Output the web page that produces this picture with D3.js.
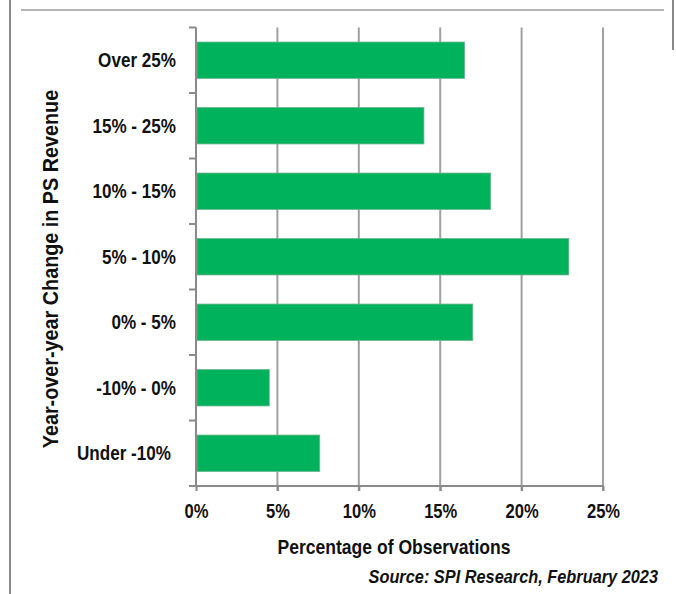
<!DOCTYPE html>
<html>
<head>
<meta charset="utf-8">
<script src="https://cdn.jsdelivr.net/npm/d3@7"></script>
<style>
html,body{margin:0;padding:0;background:#fff;}
svg{display:block;}
</style>
</head>
<body>
<svg id="chart" width="676" height="594"></svg>
<script>
const categories = ["Over 25%", "15% - 25%", "10% - 15%", "5% - 10%", "0% - 5%", "-10% - 0%", "Under -10%"];
const values = [16.5, 14.0, 18.1, 22.9, 17.0, 4.5, 7.6];
const xTicks = [0, 5, 10, 15, 20, 25];
const xTickLabels = ["0%", "5%", "10%", "15%", "20%", "25%"];
const yTitle = "Year-over-year Change in PS Revenue";
const xTitle = "Percentage of Observations";
const source = "Source: SPI Research, February 2023";

const FONT = "'Liberation Sans',Arial,sans-serif";
const svg = d3.select("#chart");

// frame lines
svg.append("line").attr("x1",10).attr("x2",10).attr("y1",0).attr("y2",594).attr("stroke","#8a8a8a").attr("stroke-width",2);
svg.append("line").attr("x1",21).attr("x2",664).attr("y1",10).attr("y2",10).attr("stroke","#b4b4b4").attr("stroke-width",2);
svg.append("line").attr("x1",673).attr("x2",673).attr("y1",0).attr("y2",50).attr("stroke","#8a8a8a").attr("stroke-width",2);

const x = d3.scaleLinear().domain([0,25]).range([196,603]);
const y = d3.scaleBand().domain(categories).range([27.5,486]).paddingInner(0.444).paddingOuter(0.222);

// gridlines
svg.append("g").selectAll("line").data(xTicks.slice(1)).join("line")
  .attr("x1",d=>x(d)).attr("x2",d=>x(d)).attr("y1",27.5).attr("y2",491)
  .attr("stroke","#a0a0a0").attr("stroke-width",2);

// bars
svg.append("g").selectAll("rect").data(categories).join("rect")
  .attr("x",x(0)+1).attr("y",(d)=>y(d))
  .attr("width",(d,i)=>x(values[i])-x(0)-1).attr("height",y.bandwidth())
  .attr("fill","#00b25c").attr("stroke","#6fb48e").attr("stroke-width",0.8);

// y axis line and ticks at band boundaries
const step = y.step();
const bounds = d3.range(categories.length+1).map(i=>27.5+i*step);
svg.append("line").attr("x1",196).attr("x2",196).attr("y1",27.5).attr("y2",486).attr("stroke","#8a8a8a").attr("stroke-width",2);
svg.append("g").selectAll("line").data(bounds).join("line")
  .attr("x1",189).attr("x2",196).attr("y1",d=>d).attr("y2",d=>d)
  .attr("stroke","#8a8a8a").attr("stroke-width",2);

// x axis
const xAxis = d3.axisBottom(x).tickValues(xTicks).tickFormat((d,i)=>xTickLabels[i]).tickSize(5);
const gx = svg.append("g").attr("transform","translate(0,486)").call(xAxis);
gx.select(".domain").attr("d","M189,0H603").attr("stroke","#8a8a8a").attr("stroke-width",2);
gx.selectAll(".tick line").attr("stroke","#8a8a8a").attr("stroke-width",2);
gx.selectAll(".tick text").attr("y",32.5).attr("dy",null)
  .attr("transform","scale(0.85,1)")
  .attr("font-family",FONT).attr("font-weight","bold").attr("font-size",19.5).attr("fill","#111");

// category labels
svg.append("g").selectAll("text").data(categories).join("text")
  .attr("transform",(d,i)=>`translate(${i===6 ? 171 : 176},${y(d)+y.bandwidth()/2+7}) scale(0.855,1)`)
  .attr("text-anchor","end")
  .attr("font-family",FONT).attr("font-weight","bold").attr("font-size",20).attr("fill","#111")
  .text(d=>d);

// y title
svg.append("text").attr("transform","translate(58,269) rotate(-90) scale(0.9,1)")
  .attr("text-anchor","middle").attr("font-family",FONT).attr("font-weight","bold").attr("font-size",22).attr("fill","#111")
  .text(yTitle);

// x title
svg.append("text").attr("transform","translate(394,554) scale(0.9,1)").attr("text-anchor","middle")
  .attr("font-family",FONT).attr("font-size",19.5).attr("font-weight","bold").attr("fill","#111").text(xTitle);

// source
svg.append("text").attr("transform","translate(658,583) scale(0.86,1)").attr("text-anchor","end")
  .attr("font-family",FONT).attr("font-size",19).attr("font-weight","bold").attr("font-style","italic").attr("fill","#111").text(source);
</script>
</body>
</html>
